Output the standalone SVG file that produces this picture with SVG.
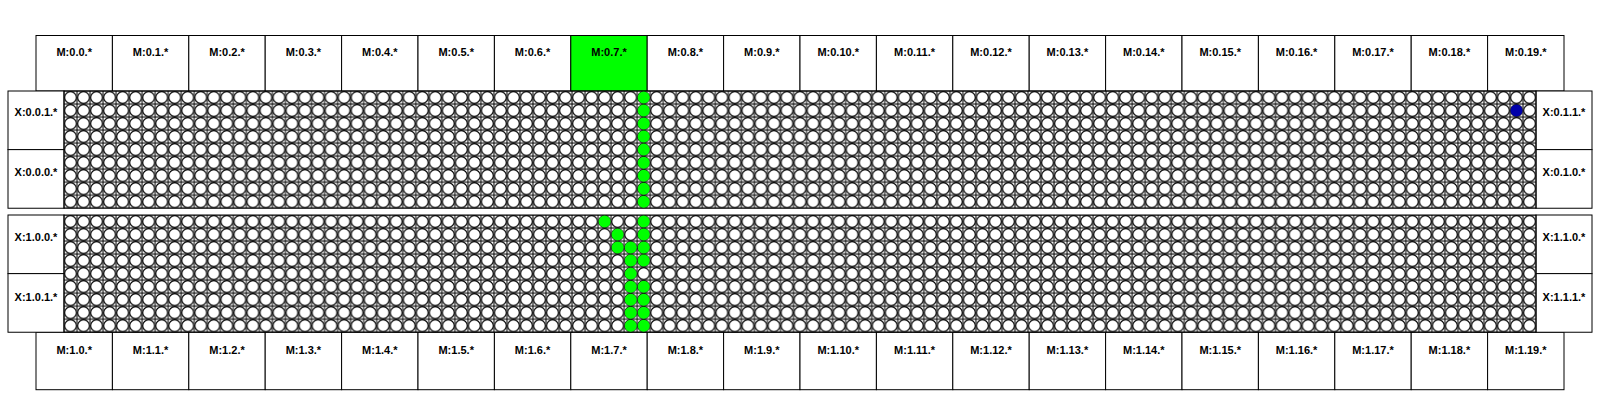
<svg xmlns="http://www.w3.org/2000/svg" xmlns:xlink="http://www.w3.org/1999/xlink" width="1600" height="400" viewBox="0 0 1600 400">
<style>
.box{fill:#fff;stroke:#000;stroke-width:1}
.hot{fill:#00ff00;stroke:#000;stroke-width:1}
.lbl{font-family:"Liberation Sans",Arial,sans-serif;font-weight:bold;font-size:11px;fill:#000;text-anchor:middle}
.blk{fill:url(#cells);stroke:#000;stroke-width:1}
.g{fill:#00ff00}
.b{fill:#0000aa}
</style>
<defs>
<pattern id="cells" patternUnits="userSpaceOnUse" x="64" y="91" width="13.027" height="13.027">
<rect x="0" y="0" width="13.027" height="13.027" fill="#fff" stroke="#000" stroke-width="1"/>
<circle cx="6.5135" cy="6.5135" r="5.9" fill="#fff" stroke="#000" stroke-width="1.1"/>
</pattern>
</defs>
<rect width="1600" height="400" fill="#fff"/>
<g id="m-top">
<g id="M0_0"><rect class="box" x="36" y="35.5" width="76.4" height="55.5"/><text class="lbl" x="74.2" y="56">M:0.0.*</text></g>
<g id="M0_1"><rect class="box" x="112.4" y="35.5" width="76.4" height="55.5"/><text class="lbl" x="150.6" y="56">M:0.1.*</text></g>
<g id="M0_2"><rect class="box" x="188.8" y="35.5" width="76.4" height="55.5"/><text class="lbl" x="227" y="56">M:0.2.*</text></g>
<g id="M0_3"><rect class="box" x="265.2" y="35.5" width="76.4" height="55.5"/><text class="lbl" x="303.4" y="56">M:0.3.*</text></g>
<g id="M0_4"><rect class="box" x="341.6" y="35.5" width="76.4" height="55.5"/><text class="lbl" x="379.8" y="56">M:0.4.*</text></g>
<g id="M0_5"><rect class="box" x="418" y="35.5" width="76.4" height="55.5"/><text class="lbl" x="456.2" y="56">M:0.5.*</text></g>
<g id="M0_6"><rect class="box" x="494.4" y="35.5" width="76.4" height="55.5"/><text class="lbl" x="532.6" y="56">M:0.6.*</text></g>
<g id="M0_7"><rect class="hot" x="570.8" y="35.5" width="76.4" height="55.5"/><text class="lbl" x="609" y="56">M:0.7.*</text></g>
<g id="M0_8"><rect class="box" x="647.2" y="35.5" width="76.4" height="55.5"/><text class="lbl" x="685.4" y="56">M:0.8.*</text></g>
<g id="M0_9"><rect class="box" x="723.6" y="35.5" width="76.4" height="55.5"/><text class="lbl" x="761.8" y="56">M:0.9.*</text></g>
<g id="M0_10"><rect class="box" x="800" y="35.5" width="76.4" height="55.5"/><text class="lbl" x="838.2" y="56">M:0.10.*</text></g>
<g id="M0_11"><rect class="box" x="876.4" y="35.5" width="76.4" height="55.5"/><text class="lbl" x="914.6" y="56">M:0.11.*</text></g>
<g id="M0_12"><rect class="box" x="952.8" y="35.5" width="76.4" height="55.5"/><text class="lbl" x="991" y="56">M:0.12.*</text></g>
<g id="M0_13"><rect class="box" x="1029.2" y="35.5" width="76.4" height="55.5"/><text class="lbl" x="1067.4" y="56">M:0.13.*</text></g>
<g id="M0_14"><rect class="box" x="1105.6" y="35.5" width="76.4" height="55.5"/><text class="lbl" x="1143.8" y="56">M:0.14.*</text></g>
<g id="M0_15"><rect class="box" x="1182" y="35.5" width="76.4" height="55.5"/><text class="lbl" x="1220.2" y="56">M:0.15.*</text></g>
<g id="M0_16"><rect class="box" x="1258.4" y="35.5" width="76.4" height="55.5"/><text class="lbl" x="1296.6" y="56">M:0.16.*</text></g>
<g id="M0_17"><rect class="box" x="1334.8" y="35.5" width="76.4" height="55.5"/><text class="lbl" x="1373" y="56">M:0.17.*</text></g>
<g id="M0_18"><rect class="box" x="1411.2" y="35.5" width="76.4" height="55.5"/><text class="lbl" x="1449.4" y="56">M:0.18.*</text></g>
<g id="M0_19"><rect class="box" x="1487.6" y="35.5" width="76.4" height="55.5"/><text class="lbl" x="1525.8" y="56">M:0.19.*</text></g>
</g>
<g id="m-bottom">
<g id="M1_0"><rect class="box" x="36" y="332.2" width="76.4" height="57.5"/><text class="lbl" x="74.2" y="354">M:1.0.*</text></g>
<g id="M1_1"><rect class="box" x="112.4" y="332.2" width="76.4" height="57.5"/><text class="lbl" x="150.6" y="354">M:1.1.*</text></g>
<g id="M1_2"><rect class="box" x="188.8" y="332.2" width="76.4" height="57.5"/><text class="lbl" x="227" y="354">M:1.2.*</text></g>
<g id="M1_3"><rect class="box" x="265.2" y="332.2" width="76.4" height="57.5"/><text class="lbl" x="303.4" y="354">M:1.3.*</text></g>
<g id="M1_4"><rect class="box" x="341.6" y="332.2" width="76.4" height="57.5"/><text class="lbl" x="379.8" y="354">M:1.4.*</text></g>
<g id="M1_5"><rect class="box" x="418" y="332.2" width="76.4" height="57.5"/><text class="lbl" x="456.2" y="354">M:1.5.*</text></g>
<g id="M1_6"><rect class="box" x="494.4" y="332.2" width="76.4" height="57.5"/><text class="lbl" x="532.6" y="354">M:1.6.*</text></g>
<g id="M1_7"><rect class="box" x="570.8" y="332.2" width="76.4" height="57.5"/><text class="lbl" x="609" y="354">M:1.7.*</text></g>
<g id="M1_8"><rect class="box" x="647.2" y="332.2" width="76.4" height="57.5"/><text class="lbl" x="685.4" y="354">M:1.8.*</text></g>
<g id="M1_9"><rect class="box" x="723.6" y="332.2" width="76.4" height="57.5"/><text class="lbl" x="761.8" y="354">M:1.9.*</text></g>
<g id="M1_10"><rect class="box" x="800" y="332.2" width="76.4" height="57.5"/><text class="lbl" x="838.2" y="354">M:1.10.*</text></g>
<g id="M1_11"><rect class="box" x="876.4" y="332.2" width="76.4" height="57.5"/><text class="lbl" x="914.6" y="354">M:1.11.*</text></g>
<g id="M1_12"><rect class="box" x="952.8" y="332.2" width="76.4" height="57.5"/><text class="lbl" x="991" y="354">M:1.12.*</text></g>
<g id="M1_13"><rect class="box" x="1029.2" y="332.2" width="76.4" height="57.5"/><text class="lbl" x="1067.4" y="354">M:1.13.*</text></g>
<g id="M1_14"><rect class="box" x="1105.6" y="332.2" width="76.4" height="57.5"/><text class="lbl" x="1143.8" y="354">M:1.14.*</text></g>
<g id="M1_15"><rect class="box" x="1182" y="332.2" width="76.4" height="57.5"/><text class="lbl" x="1220.2" y="354">M:1.15.*</text></g>
<g id="M1_16"><rect class="box" x="1258.4" y="332.2" width="76.4" height="57.5"/><text class="lbl" x="1296.6" y="354">M:1.16.*</text></g>
<g id="M1_17"><rect class="box" x="1334.8" y="332.2" width="76.4" height="57.5"/><text class="lbl" x="1373" y="354">M:1.17.*</text></g>
<g id="M1_18"><rect class="box" x="1411.2" y="332.2" width="76.4" height="57.5"/><text class="lbl" x="1449.4" y="354">M:1.18.*</text></g>
<g id="M1_19"><rect class="box" x="1487.6" y="332.2" width="76.4" height="57.5"/><text class="lbl" x="1525.8" y="354">M:1.19.*</text></g>
</g>
<g id="x-boxes">
<g id="X0_0_1"><rect class="box" x="8" y="91" width="56" height="58.62"/><text class="lbl" x="36" y="116">X:0.0.1.*</text></g>
<g id="X0_0_0"><rect class="box" x="8" y="149.62" width="56" height="58.62"/><text class="lbl" x="36" y="176">X:0.0.0.*</text></g>
<g id="X0_1_1"><rect class="box" x="1536" y="91" width="56" height="58.62"/><text class="lbl" x="1564" y="116">X:0.1.1.*</text></g>
<g id="X0_1_0"><rect class="box" x="1536" y="149.62" width="56" height="58.62"/><text class="lbl" x="1564" y="176">X:0.1.0.*</text></g>
<g id="X1_0_0"><rect class="box" x="8" y="215" width="56" height="58.62"/><text class="lbl" x="36" y="241">X:1.0.0.*</text></g>
<g id="X1_0_1"><rect class="box" x="8" y="273.62" width="56" height="58.62"/><text class="lbl" x="36" y="301">X:1.0.1.*</text></g>
<g id="X1_1_0"><rect class="box" x="1536" y="215" width="56" height="58.62"/><text class="lbl" x="1564" y="241">X:1.1.0.*</text></g>
<g id="X1_1_1"><rect class="box" x="1536" y="273.62" width="56" height="58.62"/><text class="lbl" x="1564" y="301">X:1.1.1.*</text></g>
</g>
<g id="grid-top">
<rect class="blk" x="64" y="91" width="1472" height="117.24"/>
<g class="g">
<circle cx="643.7" cy="97.51" r="6"/>
<circle cx="643.7" cy="110.54" r="6"/>
<circle cx="643.7" cy="123.57" r="6"/>
<circle cx="643.7" cy="136.6" r="6"/>
<circle cx="643.7" cy="149.62" r="6"/>
<circle cx="643.7" cy="162.65" r="6"/>
<circle cx="643.7" cy="175.68" r="6"/>
<circle cx="643.7" cy="188.7" r="6"/>
<circle cx="643.7" cy="201.73" r="6"/>
</g>
<circle class="b" cx="1516.5" cy="110.54" r="6"/>
</g>
<g id="grid-bottom" transform="translate(0,124)">
<rect class="blk" x="64" y="91" width="1472" height="117.24"/>
<g class="g">
<circle cx="604.6" cy="97.51" r="6"/>
<circle cx="643.7" cy="97.51" r="6"/>
<circle cx="617.6" cy="110.54" r="6"/>
<circle cx="643.7" cy="110.54" r="6"/>
<circle cx="617.6" cy="123.57" r="6"/>
<circle cx="630.7" cy="123.57" r="6"/>
<circle cx="643.7" cy="123.57" r="6"/>
<circle cx="630.7" cy="136.6" r="6"/>
<circle cx="643.7" cy="136.6" r="6"/>
<circle cx="630.7" cy="149.62" r="6"/>
<circle cx="630.7" cy="162.65" r="6"/>
<circle cx="643.7" cy="162.65" r="6"/>
<circle cx="630.7" cy="175.68" r="6"/>
<circle cx="643.7" cy="175.68" r="6"/>
<circle cx="630.7" cy="188.7" r="6"/>
<circle cx="643.7" cy="188.7" r="6"/>
<circle cx="630.7" cy="201.73" r="6"/>
<circle cx="643.7" cy="201.73" r="6"/>
</g>
</g>
<g id="connectors"/>
</svg>
